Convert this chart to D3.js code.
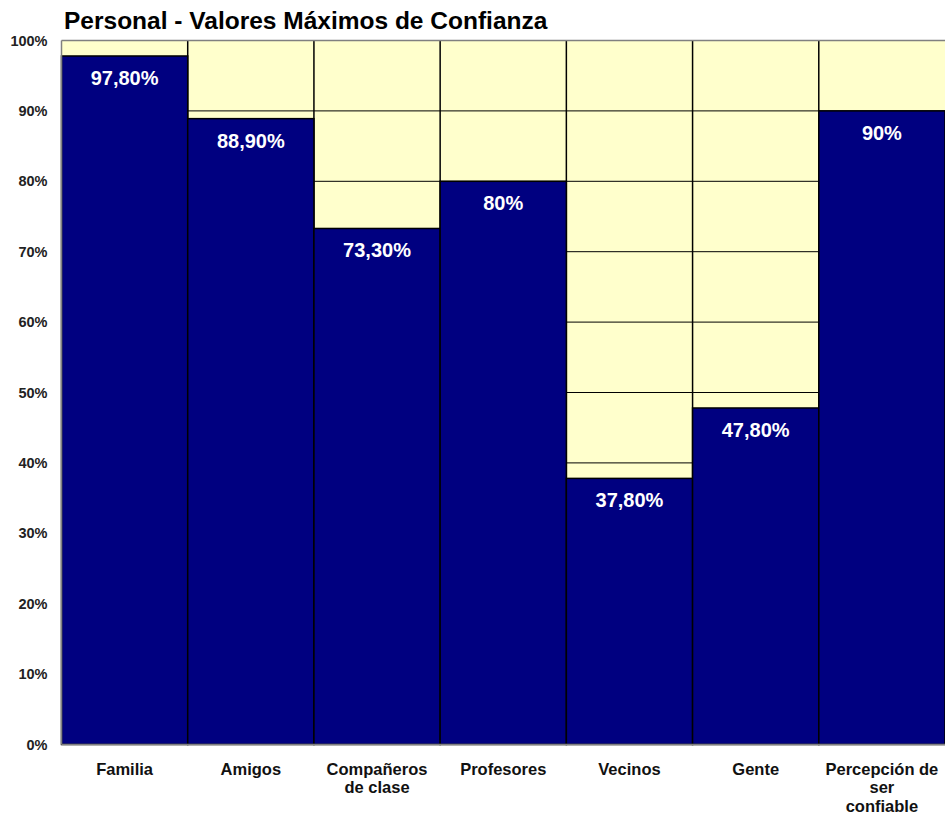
<!DOCTYPE html>
<html>
<head>
<meta charset="utf-8">
<script src="https://cdn.jsdelivr.net/npm/d3@7"></script>
<style>
  body { margin: 0; background: #fff; }
  text { font-family: "Liberation Sans", Arial, sans-serif; font-weight: bold; }
</style>
</head>
<body>
<div id="chart"></div>
<script>
var categories = ["Familia", "Amigos", "Compañeros de clase", "Profesores", "Vecinos", "Gente", "Percepción de ser confiable"];
var values = [97.8, 88.9, 73.3, 80, 37.8, 47.8, 90];
var valueLabels = ["97,80%", "88,90%", "73,30%", "80%", "37,80%", "47,80%", "90%"];
var tickValues = [0, 10, 20, 30, 40, 50, 60, 70, 80, 90, 100];

var opt = {
  width: 945, height: 817,
  margin: {top: 40.5, right: 0, bottom: 72.5, left: 61.5}
};
var inWidth = opt.width - opt.margin.left - opt.margin.right;
var inHeight = opt.height - opt.margin.top - opt.margin.bottom;

var svg = d3.select("#chart").append("svg")
  .attr("width", opt.width)
  .attr("height", opt.height);

svg.append("text")
  .attr("x", 64).attr("y", 29)
  .style("font-size", "24.5px")
  .style("fill", "#000")
  .text("Personal - Valores Máximos de Confianza");

var g = svg.append("g")
  .attr("transform", `translate(${opt.margin.left},${opt.margin.top})`);

var x = d3.scaleBand().domain(categories).range([0, inWidth]).padding(0);
var y = d3.scaleLinear().domain([0, 100]).range([inHeight, 0]);

// plot background
g.append("rect")
  .attr("width", inWidth).attr("height", inHeight)
  .style("fill", "#FFFFCC");

// gridlines
g.selectAll(".grid")
  .data(tickValues.filter(d => d > 0 && d < 100)).enter()
  .append("line")
  .attr("x1", 0).attr("x2", inWidth)
  .attr("y1", d => y(d)).attr("y2", d => y(d))
  .style("stroke", "#000").style("stroke-width", 1);

// vertical dividers in background
g.selectAll(".vdiv")
  .data(categories.slice(1)).enter()
  .append("line")
  .attr("x1", d => x(d)).attr("x2", d => x(d))
  .attr("y1", 0).attr("y2", inHeight)
  .style("stroke", "#000").style("stroke-width", 1.5);

// bars
g.selectAll(".bar")
  .data(values).enter()
  .append("rect")
  .attr("x", (d, i) => x(categories[i]))
  .attr("y", d => y(d))
  .attr("width", x.bandwidth())
  .attr("height", d => inHeight - y(d))
  .style("fill", "#000080")
  .style("stroke", "#000")
  .style("stroke-width", 1.5);

// value labels
g.selectAll(".vlabel")
  .data(values).enter()
  .append("text")
  .attr("x", (d, i) => x(categories[i]) + x.bandwidth() / 2)
  .attr("y", d => y(d) + 29)
  .attr("text-anchor", "middle")
  .style("font-size", "20px")
  .style("fill", "#fff")
  .text((d, i) => valueLabels[i]);

// plot frame (top/left/bottom grey)
g.append("line").attr("x1", 0).attr("x2", inWidth).attr("y1", 0).attr("y2", 0)
  .style("stroke", "#808080").style("stroke-width", 1.5);
g.append("line").attr("x1", 0).attr("x2", 0).attr("y1", 0).attr("y2", inHeight)
  .style("stroke", "#808080").style("stroke-width", 1.5);
g.append("line").attr("x1", 0).attr("x2", inWidth).attr("y1", inHeight).attr("y2", inHeight)
  .style("stroke", "#808080").style("stroke-width", 1.5);

// y axis labels
var yAxis = g.append("g")
  .call(d3.axisLeft(y).tickValues(tickValues).tickFormat(d => d + "%").tickSize(0).tickPadding(14));
yAxis.select(".domain").remove();
yAxis.selectAll("text")
  .style("font-size", "14.5px")
  .style("fill", "#222")
  .style("font-family", '"Liberation Sans", Arial, sans-serif')
  .style("font-weight", "bold");

// x axis labels, wrapped
var xLines = [["Familia"], ["Amigos"], ["Compañeros", "de clase"], ["Profesores"], ["Vecinos"], ["Gente"], ["Percepción de", "ser", "confiable"]];
var xl = g.selectAll(".xlabel")
  .data(categories).enter()
  .append("text")
  .attr("transform", d => `translate(${x(d) + x.bandwidth() / 2},${inHeight + 30})`)
  .attr("text-anchor", "middle")
  .style("font-size", "16.5px")
  .style("fill", "#111");
xl.each(function(d, i) {
  d3.select(this).selectAll("tspan")
    .data(xLines[i]).enter()
    .append("tspan")
    .attr("x", 0)
    .attr("dy", (t, j) => j === 0 ? 0 : 18.5)
    .text(t => t);
});
</script>
</body>
</html>
